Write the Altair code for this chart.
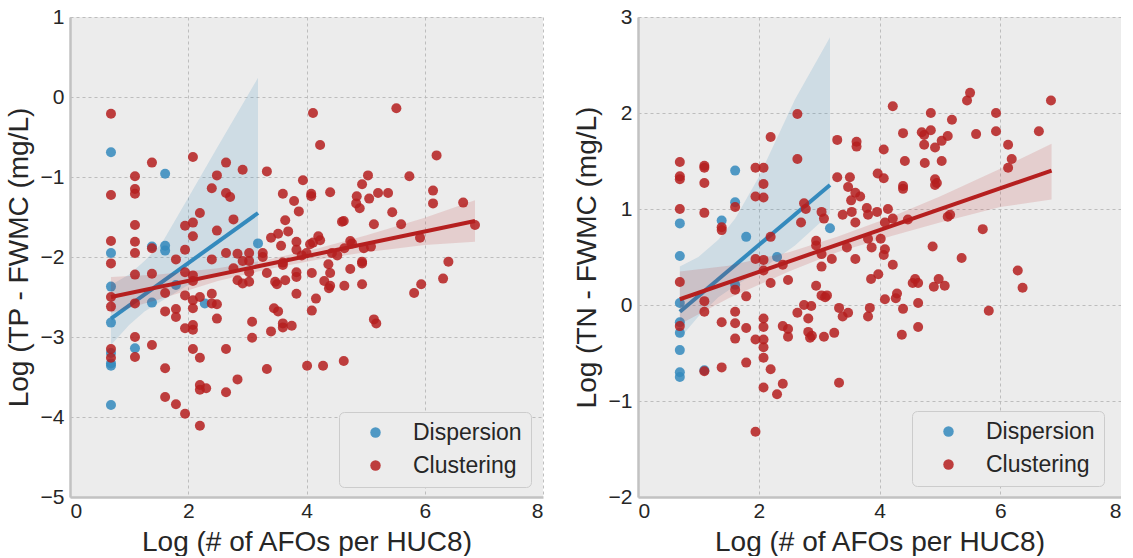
import altair as alt
import pandas as pd

BLUE = "#348abd"
RED = "#b51f1f"
XTITLE = "Log (# of AFOs per HUC8)"

# ---------------- Left panel: TP ----------------
tp_disp_x = [0.693, 0.693, 0.693, 0.693, 0.693, 0.693, 0.693, 0.693,
             1.099, 1.386, 1.386, 1.609, 1.609, 1.609, 1.792, 2.28, 3.18]
tp_disp_y = [-0.69, -1.95, -2.37, -2.82, -3.20, -3.33, -3.36, -3.85,
             -3.14, -1.87, -2.57, -0.96, -1.86, -1.92, -2.35, -2.58, -1.83]

tp_clus_x = [
    0.693, 0.693, 0.693, 0.693, 0.693, 0.693, 0.693, 0.693,
    1.099, 1.099, 1.099, 1.099, 1.099, 1.099, 1.099, 1.099, 1.099, 1.099,
    1.386, 1.386, 1.386, 1.386,
    1.609, 1.609, 1.609, 1.609,
    1.792, 1.792, 1.792, 1.792,
    1.946, 1.946, 1.946, 1.946, 1.946, 1.946,
    2.079, 2.079, 2.079, 2.079, 2.079, 2.079, 2.079, 2.079, 2.079, 2.079,
    2.197, 2.197, 2.197, 2.197, 2.197, 2.197,
    2.303,
    2.398, 2.398, 2.398, 2.398,
    2.485, 2.485, 2.485, 2.485,
    2.639, 2.639, 2.639, 2.639, 2.639,
    2.708,
    2.765, 2.765,
    2.833, 2.833, 2.833,
    2.92, 2.92, 2.92,
    3.03, 3.03, 3.03, 3.03,
    3.08, 3.08,
    3.26, 3.26,
    3.33, 3.33, 3.33,
    3.40, 3.40,
    3.45, 3.47, 3.50,
    3.52, 3.52,
    3.57,
    3.60, 3.60, 3.60, 3.60, 3.60,
    3.64, 3.64,
    3.69, 3.75, 3.79,
    3.83, 3.83, 3.83, 3.83, 3.83,
    3.87, 3.92, 3.94, 4.00, 4.01, 4.06,
    4.08, 4.08,
    4.09, 4.09,
    4.11, 4.11,
    4.16, 4.20,
    4.23, 4.23,
    4.28, 4.30, 4.37, 4.38,
    4.40, 4.40, 4.40,
    4.43, 4.52, 4.60,
    4.63, 4.63,
    4.64, 4.64,
    4.74, 4.74,
    4.77, 4.84, 4.85, 4.90,
    4.94, 4.94, 4.94, 4.94,
    4.97, 5.04, 5.06, 5.09,
    5.14, 5.14,
    5.18, 5.21, 5.38, 5.45, 5.52, 5.60, 5.74, 5.82, 5.92, 5.94,
    6.14, 6.14,
    6.20, 6.31, 6.40, 6.65, 6.85]
tp_clus_y = [
    -0.21, -1.225, -1.80, -2.08, -2.50, -2.62, -3.15, -3.26,
    -0.99, -1.15, -1.21, -1.60, -1.81, -1.95, -2.22, -2.58, -3.00, -3.25,
    -0.82, -1.89, -2.21, -3.10,
    -2.45, -2.68, -3.39, -3.75,
    -2.03, -2.65, -2.75, -3.84,
    -1.61, -1.91, -2.19, -2.48, -2.89, -3.96,
    -0.75, -1.57, -1.74, -2.23, -2.30, -2.54, -2.64, -2.85, -2.91, -3.15,
    -1.45, -2.50, -3.26, -3.60, -3.66, -4.11,
    -3.64,
    -1.14, -2.03, -2.46, -2.58,
    -0.98, -1.67, -2.59, -2.77,
    -0.82, -1.20, -1.95, -3.15, -3.69,
    -1.25,
    -1.53, -2.14,
    -1.96, -2.29, -3.53,
    -0.91, -2.05, -2.33,
    -1.95, -2.05, -2.19, -2.31,
    -2.81, -3.01,
    -1.95, -2.00,
    -0.93, -2.20, -3.40,
    -1.76, -2.93,
    -2.64, -2.31, -2.34,
    -1.71, -2.68,
    -1.86,
    -1.21, -2.07, -2.10, -2.83, -2.88,
    -1.54, -2.29,
    -1.68, -2.86, -1.30,
    -1.81, -1.91, -2.19, -2.25, -2.46,
    -1.43, -1.98, -1.04, -1.95, -3.36, -1.84,
    -1.21, -1.24,
    -2.20, -2.67,
    -0.20, -1.82,
    -2.52, -1.74,
    -0.60, -1.79,
    -3.36, -2.30, -2.09, -2.39,
    -1.19, -2.20, -2.36,
    -1.95, -1.98, -1.56,
    -1.55, -3.30,
    -1.89, -2.36,
    -1.80, -2.15,
    -1.83, -1.33, -1.24, -1.39,
    -1.09, -2.06, -2.08, -2.34,
    -1.89, -0.98, -1.27, -1.87,
    -1.59, -2.78,
    -2.83, -1.20, -1.20, -1.44, -0.14, -1.59, -0.99, -2.45, -1.76, -2.34,
    -1.17, -1.33,
    -0.73, -2.27, -2.06, -1.32, -1.60]

tp_disp_line_x = [0.693, 3.18]
tp_disp_line_y = [-2.77, -1.45]
tp_clus_line_x = [0.693, 6.85]
tp_clus_line_y = [-2.50, -1.55]

tp_disp_band_x = [0.693, 1.0, 1.26, 1.55, 2.0, 2.5, 3.18]
tp_disp_band_lo = [-3.10, -2.85, -2.68, -2.55, -2.35, -2.22, -2.10]
tp_disp_band_hi = [-2.35, -2.22, -2.05, -1.83, -1.26, -0.62, 0.24]
tp_clus_band_x = [0.693, 1.5, 2.5, 3.3, 4.2, 5.0, 6.0, 6.85]
tp_clus_band_lo = [-2.70, -2.53, -2.30, -2.16, -2.03, -1.94, -1.85, -1.81]
tp_clus_band_hi = [-2.25, -2.22, -2.14, -2.04, -1.89, -1.73, -1.51, -1.29]

# ---------------- Right panel: TN ----------------
tn_disp_x = [0.693, 0.693, 0.693, 0.693, 0.693, 0.693, 0.693, 0.693,
             1.099, 1.386, 1.609, 1.609, 1.609, 1.792, 2.303, 3.18]
tn_disp_y = [0.85, 0.51, 0.02, -0.18, -0.29, -0.47, -0.70, -0.75,
             -0.68, 0.88, 1.40, 1.07, 0.21, 0.71, 0.50, 0.80]

tn_clus_x = [
    0.693, 0.693, 0.693, 0.693, 0.693, 0.693,
    1.099, 1.099, 1.099, 1.099, 1.099, 1.099, 1.099,
    1.386, 1.386, 1.386, 1.386,
    1.609, 1.609, 1.609, 1.609, 1.609,
    1.792, 1.792, 1.792,
    1.946, 1.946, 1.946, 1.946, 1.946,
    2.079, 2.079, 2.079, 2.079, 2.079, 2.079, 2.079, 2.079, 2.079, 2.079, 2.079,
    2.197, 2.197, 2.197, 2.197,
    2.303,
    2.398, 2.398, 2.398,
    2.485, 2.485, 2.485,
    2.64, 2.64, 2.64,
    2.70,
    2.75, 2.75,
    2.78,
    2.82, 2.82,
    2.85, 2.87, 2.88,
    2.95, 2.95, 2.95,
    3.04, 3.04, 3.04, 3.04,
    3.08, 3.08,
    3.10, 3.13, 3.21, 3.25,
    3.30, 3.30,
    3.33, 3.33,
    3.39, 3.39,
    3.46,
    3.48, 3.48,
    3.51, 3.53, 3.54,
    3.60, 3.60, 3.60,
    3.62, 3.62,
    3.68, 3.79,
    3.81, 3.81, 3.81,
    3.84, 3.86, 3.87, 3.96, 3.97, 3.98, 4.02,
    4.07, 4.07, 4.07,
    4.09, 4.09, 4.09,
    4.14,
    4.22, 4.22, 4.22,
    4.27, 4.29, 4.37,
    4.39, 4.39, 4.39, 4.39,
    4.42, 4.47, 4.55, 4.59,
    4.64, 4.64, 4.64,
    4.70,
    4.74, 4.74,
    4.75,
    4.85, 4.85,
    4.88, 4.90,
    4.92, 4.92, 4.92,
    4.95, 4.98,
    5.03, 5.03,
    5.08,
    5.13, 5.13,
    5.17, 5.20, 5.36, 5.45, 5.50, 5.60, 5.71, 5.81,
    5.93, 5.93,
    6.13, 6.13,
    6.19, 6.29, 6.37, 6.64, 6.84]
tn_clus_y = [
    1.49, 1.34, 1.31, 1.00, 0.24, -0.22,
    1.45, 1.43, 1.27, 0.96, 0.04, -0.07, -0.69,
    0.81, 0.78, -0.18, -0.65,
    1.02, 0.16, -0.07, -0.19, -0.35,
    0.09, -0.24, -0.60,
    1.43, 1.13, 0.48, -0.36, -1.32,
    1.43, 1.26, 1.12, 0.47, 0.36, -0.14, -0.23, -0.36, -0.44, -0.55, -0.86,
    1.75, 0.71, 0.23, -0.67,
    -0.93,
    0.42, -0.22, -0.82,
    0.26, -0.25, -0.33,
    1.99, 1.52, -0.08,
    0.86,
    1.06, 0.00,
    1.00,
    -0.14, -0.28,
    -0.34, -0.01, -0.32,
    0.67, 0.62, 0.20,
    0.97, 0.53, 0.40, 0.10,
    0.90, -0.33,
    0.08, 0.10, 0.48, -0.29,
    1.72, 1.33,
    -0.03, -0.81,
    0.94, -0.12,
    0.60,
    1.23, -0.08,
    1.33, 1.09, 0.97,
    0.86, 0.48, 1.17,
    1.70, 1.65,
    1.13, 1.01,
    0.94, 0.69, -0.12,
    -0.03, 0.27, 0.60, 0.97, 1.37, 0.32, 0.69,
    1.62, 1.32, 0.52,
    0.86, 0.58, 0.06,
    1.00,
    2.07, 0.90, 0.42,
    0.07, 0.12, -0.31,
    1.79, 1.24, 1.21, -0.04,
    1.50, 0.89, 0.23, 0.27,
    0.23, 0.02, -0.23,
    1.80,
    1.77, 1.67,
    1.48,
    2.00, 1.82,
    0.61, 0.19,
    1.64, 1.31, 1.25,
    1.27, 0.27,
    1.71, 1.50,
    0.20,
    1.76, 0.92,
    0.94, 1.93, 0.49, 2.13, 2.21, 1.78, 0.79, -0.06,
    2.00, 1.81,
    1.67, 1.43,
    1.52, 0.36, 0.18, 1.81, 2.13]

tn_disp_line_x = [0.693, 3.18]
tn_disp_line_y = [-0.07, 1.25]
tn_clus_line_x = [0.693, 6.85]
tn_clus_line_y = [0.06, 1.40]

tn_disp_band_x = [0.693, 1.0, 1.33, 1.61, 2.0, 2.6, 3.18]
tn_disp_band_lo = [-0.35, -0.12, 0.08, 0.20, 0.35, 0.62, 0.95]
tn_disp_band_hi = [0.40, 0.50, 0.68, 0.90, 1.33, 2.14, 2.79]
tn_clus_band_x = [0.693, 1.5, 2.5, 3.3, 4.2, 5.0, 6.0, 6.85]
tn_clus_band_lo = [-0.20, 0.07, 0.35, 0.55, 0.72, 0.86, 1.02, 1.10]
tn_clus_band_hi = [0.35, 0.41, 0.55, 0.71, 0.92, 1.13, 1.42, 1.68]


def panel(dx, dy, cx, cy, dlx, dly, clx, cly, dbx, dblo, dbhi, cbx, cblo, cbhi,
          ydom, yvals, ytitle, w, lx, ly):
    X = alt.X("x:Q", scale=alt.Scale(domain=[0, 8], nice=False, zero=False),
              axis=alt.Axis(values=[0, 2, 4, 6, 8], title=XTITLE, format="d"))
    Y = alt.Y("y:Q", scale=alt.Scale(domain=ydom, nice=False, zero=False),
              axis=alt.Axis(values=yvals, title=ytitle, format="d"))
    color = alt.Color("group:N",
                      scale=alt.Scale(domain=["Dispersion", "Clustering"], range=[BLUE, RED]),
                      legend=alt.Legend(title=None, orient="none", legendX=lx, legendY=ly))
    dpts = pd.DataFrame({"x": dx, "y": dy, "group": "Dispersion"})
    cpts = pd.DataFrame({"x": cx, "y": cy, "group": "Clustering"})
    dline = pd.DataFrame({"x": dlx, "y": dly})
    cline = pd.DataFrame({"x": clx, "y": cly})
    dband = pd.DataFrame({"x": dbx, "y": dblo, "y2": dbhi})
    cband = pd.DataFrame({"x": cbx, "y": cblo, "y2": cbhi})

    l1 = alt.Chart(dpts).mark_circle(size=100, opacity=0.85).encode(X, Y, color)
    l2 = alt.Chart(dband).mark_area(color=BLUE, opacity=0.16).encode(x=X, y=Y, y2="y2:Q")
    l3 = alt.Chart(dline).mark_line(color=BLUE, strokeWidth=4).encode(x=X, y=Y)
    l4 = alt.Chart(cpts).mark_circle(size=100, opacity=0.85).encode(X, Y, color)
    l5 = alt.Chart(cband).mark_area(color=RED, opacity=0.14).encode(x=X, y=Y, y2="y2:Q")
    l6 = alt.Chart(cline).mark_line(color=RED, strokeWidth=4).encode(x=X, y=Y)
    return alt.layer(l1, l2, l3, l4, l5, l6).properties(width=w, height=480)


left = panel(tp_disp_x, tp_disp_y, tp_clus_x, tp_clus_y,
             tp_disp_line_x, tp_disp_line_y, tp_clus_line_x, tp_clus_line_y,
             tp_disp_band_x, tp_disp_band_lo, tp_disp_band_hi,
             tp_clus_band_x, tp_clus_band_lo, tp_clus_band_hi,
             [-5, 1], [-5, -4, -3, -2, -1, 0, 1], "Log (TP - FWMC (mg/L)", 473, 269, 395)
right = panel(tn_disp_x, tn_disp_y, tn_clus_x, tn_clus_y,
              tn_disp_line_x, tn_disp_line_y, tn_clus_line_x, tn_clus_line_y,
              tn_disp_band_x, tn_disp_band_lo, tn_disp_band_hi,
              tn_clus_band_x, tn_clus_band_lo, tn_clus_band_hi,
              [-2, 3], [-2, -1, 0, 1, 2, 3], "Log (TN - FWMC (mg/L)", 483, 274, 394)

FONT = "Liberation Sans"
chart = (
    alt.hconcat(left, right, spacing=95, bounds="flush")
    .resolve_scale(color="independent")
    .properties(padding={"left": 5, "top": 6, "right": 0, "bottom": 0}, background="white")
    .configure_view(fill="#ececec", strokeWidth=0)
    .configure_axis(labelFont=FONT, titleFont=FONT, labelFontSize=21, titleFontSize=28,
                    labelColor="#262626", titleColor="#262626", titleFontWeight="normal",
                    ticks=False, grid=True, gridColor="#b8b8b8", gridDash=[3, 3], gridWidth=0.9,
                    domainColor="#c2c2c2", domainWidth=2.5)
    .configure_axisX(labelPadding=3, titleY=53, titleBaseline="alphabetic")
    .configure_axisY(labelPadding=6, titleX=-51, titleBaseline="middle")
    .configure_legend(labelFont=FONT, labelFontSize=23, labelColor="#262626",
                      symbolType="circle", symbolSize=110, symbolStrokeWidth=0, symbolOpacity=0.85,
                      padding=9, rowPadding=9, fillColor="#ececec", strokeColor="#cccccc",
                      cornerRadius=5, labelOffset=26, symbolOffset=16)
)

chart.save("out.html", embed_options={"renderer": "svg", "actions": False})
